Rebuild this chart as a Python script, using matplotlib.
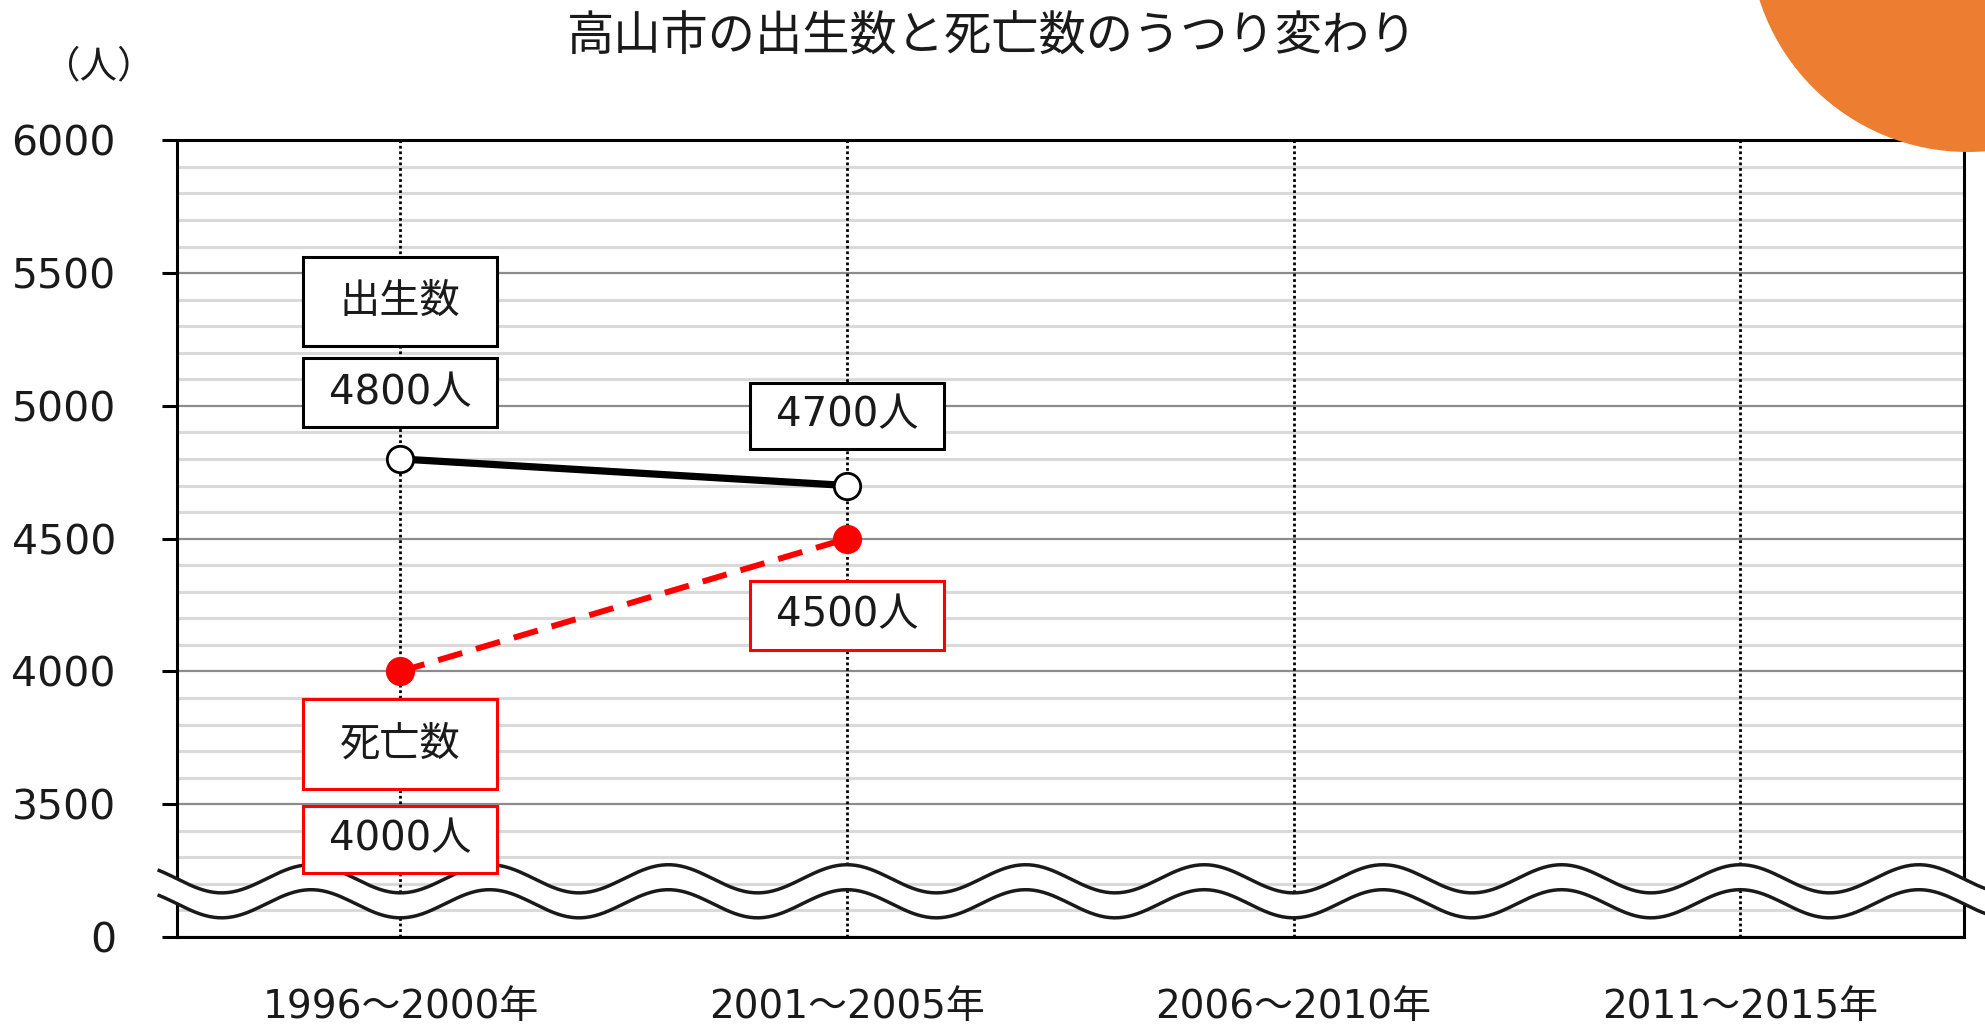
import numpy as np
import matplotlib.pyplot as plt
from matplotlib.patches import Rectangle, Circle
from matplotlib.transforms import ScaledTranslation

# Verdana-like digits from DejaVu, Japanese glyphs from Noto CJK
plt.rcParams['font.family'] = ['DejaVu Sans', 'Noto Sans CJK JP']

# data
periods = ['1996〜2000年', '2001〜2005年', '2006〜2010年', '2011〜2015年']
births = [4800, 4700, np.nan, np.nan]
deaths = [4000, 4500, np.nan, np.nan]
ytick_values = [3000, 3500, 4000, 4500, 5000, 5500, 6000]
ytick_labels = ['0', '3500', '4000', '4500', '5000', '5500', '6000']

title = '高山市の出生数と死亡数のうつり変わり'
unit = '（人）'
birth_name = '出生数'
death_name = '死亡数'

DPI = 100
fig = plt.figure(figsize=(19.85, 10.24), dpi=DPI)
ax = fig.add_axes([0.0892, 0.085, 0.9, 0.778])

x = np.arange(len(periods))
ax.set_xlim(-0.5, len(periods) - 0.5)
ax.set_ylim(3000, 6000)

# grid
for v in np.arange(3000, 6001, 100):
    if v % 500 == 0:
        ax.axhline(v, color='#8c8c8c', lw=1.6, zorder=1)
    else:
        ax.axhline(v, color='#d9d9d9', lw=2.2, zorder=0.5)
for xi in x:
    ax.axvline(xi, color='black', lw=2, ls=(0, (1, 1)), zorder=1.5)

# series
ax.plot(x, births, color='black', lw=5.2, zorder=3,
        marker='o', ms=19, mfc='white', mec='black', mew=2)
ax.plot(x, deaths, color='#ff0000', lw=4.3, dashes=(4.2, 2.4), zorder=3,
        marker='o', ms=20, mfc='#ff0000', mec='#ff0000')

# wavy break near the bottom
wx = np.linspace(-0.54, 3.7, 800)
wave = np.cos(2 * np.pi * wx / 0.4)
top = 3219 - 53 * wave
bot = 3125 - 53 * wave
ax.fill_between(wx, bot, top, color='white', zorder=4, clip_on=False, lw=0)
ax.plot(wx, top, color='#1a1a1a', lw=2.5, zorder=4.1, clip_on=False)
ax.plot(wx, bot, color='#1a1a1a', lw=2.5, zorder=4.1, clip_on=False)

# label boxes (offsets in pixels from the data point)
def box(xi, yv, text, dy, h, color, w=194):
    tr = fig.dpi_scale_trans + ScaledTranslation(xi, yv, ax.transData)
    ax.add_patch(Rectangle((-w / 2 / DPI, (dy - h / 2) / DPI), w / DPI, h / DPI,
                           transform=tr, facecolor='white', edgecolor=color,
                           lw=2.2, zorder=6, clip_on=False))
    ax.text(0, dy / DPI, text, transform=tr, ha='center', va='center',
            fontsize=29, color='#1a1a1a', zorder=7)

box(x[0], births[0], birth_name, 157, 89, 'black')
box(x[0], births[0], f'{births[0]}人', 66, 69, 'black')
box(x[1], births[1], f'{births[1]}人', 70, 66, 'black')
box(x[1], deaths[1], f'{deaths[1]}人', -77, 69, '#ff0000')
box(x[0], deaths[0], death_name, -73, 90, '#ff0000')
box(x[0], deaths[0], f'{deaths[0]}人', -168, 67, '#ff0000')

# axes styling
for s in ax.spines.values():
    s.set_linewidth(2.2)
    s.set_color('black')
    s.set_zorder(3.5)
ax.set_xticks(x)
ax.set_xticklabels(periods, fontsize=28, color='#1a1a1a')
ax.tick_params(axis='x', length=0, pad=37)
ax.set_yticks(ytick_values)
ax.set_yticklabels(ytick_labels, fontsize=29.5, color='#1a1a1a')
ax.tick_params(axis='y', length=11, width=2.2, pad=33)

fig.text(0.5, 0.963, title, ha='center', va='center', fontsize=34, color='#1a1a1a')
fig.text(0.05, 0.934, unit, ha='center', va='center', fontsize=27, color='#1a1a1a')

# orange decoration in the corner
fig.add_artist(Circle((1968, 1024 + 67), 219, transform=None,
                      facecolor='#ed7d31', edgecolor='none', zorder=10))

fig.savefig('out.png', dpi=DPI)
